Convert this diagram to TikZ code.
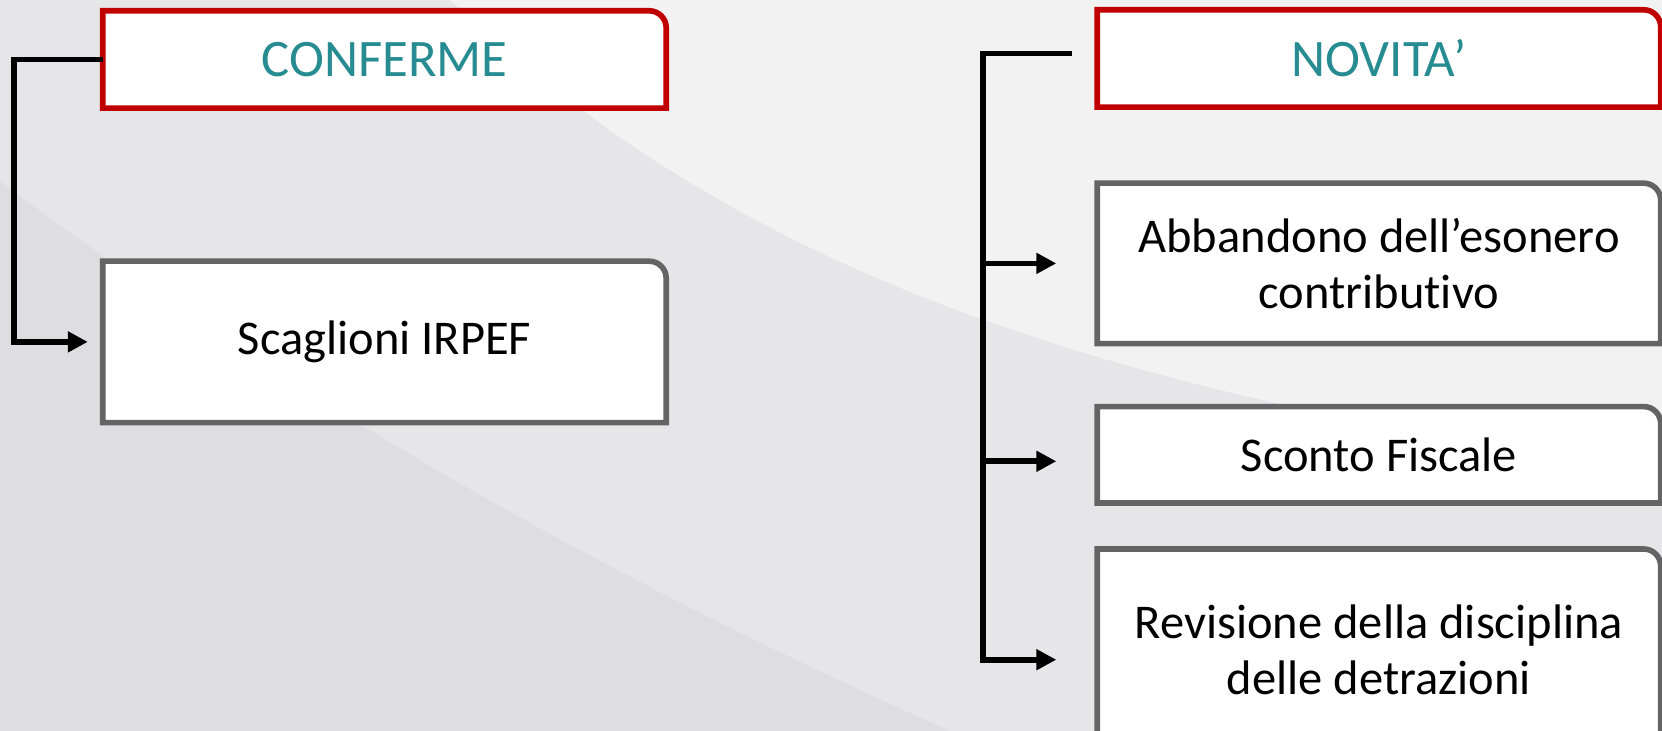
\documentclass[tikz,border=0pt]{standalone}
\usepackage{fontspec}
\setmainfont{Carlito}[Ligatures=NoCommon]
\usetikzlibrary{positioning}
\usetikzlibrary{arrows.meta}
\usetikzlibrary{backgrounds}

\definecolor{titlered}{RGB}{192,0,0}
\definecolor{titleteal}{RGB}{38,140,145}
\definecolor{boxgray}{RGB}{100,100,100}
\definecolor{bggray}{RGB}{230,230,232}

% outline with one round corner (top right)
\newcommand{\tabbox}[2]{%
  \filldraw[fill=white, draw=#2, line width=1.6pt] (#1.south west) -- (#1.north west)
    -- ([xshift=-1.7mm]#1.north east) arc[start angle=90, end angle=0, radius=1.7mm]
    -- (#1.south east) -- cycle;}

\begin{document}
\begin{tikzpicture}[titlenode/.style={minimum width=5.62cm, minimum height=0.96cm, inner sep=0pt, align=center, text=titleteal, font=\fontsize{15}{18}\selectfont},
    itemnode/.style={minimum width=5.62cm, inner sep=0pt, align=center, font=\fontsize{13.8}{16}\selectfont},
    link/.style={-{Triangle[length=2mm, width=2mm]}, line width=1.6pt}]
        \useasboundingbox (0,0) rectangle (16.62,7.31);

        \node[titlenode] (conferme) at (3.845,6.715) {CONFERME};
        \node[itemnode, minimum height=1.60cm] (scaglioni) [below=1.53cm of conferme] {Scaglioni IRPEF};

        \node[titlenode] (novita) at (13.79,6.725) {NOVITA’};
        \node[itemnode, minimum height=1.59cm] (abbandono) [below=0.76cm of novita] {Abbandono dell’esonero\\contributivo};
        \node[itemnode, minimum height=0.95cm] (sconto) [below=0.63cm of abbandono] {Sconto Fiscale};
        \node[itemnode, minimum height=2.0cm] (revisione) [below=0.46cm of sconto] {Revisione della disciplina\\delle detrazioni};

        \begin{scope}[on background layer]
            \fill[bggray] (0,0) rectangle (16.62,7.31);
            \fill[white, opacity=0.5] (4.5,7.31) .. controls (7,5) and (10,3.5) .. (16.62,2.6) -- (16.62,7.31) -- cycle;
            \fill[black, opacity=0.03] (0,5.5) .. controls (2,4) and (5,2) .. (9.5,0) -- (0,0) -- cycle;
            \tabbox{conferme}{titlered}
            \tabbox{scaglioni}{boxgray}
            \tabbox{novita}{titlered}
            \tabbox{abbandono}{boxgray}
            \tabbox{sconto}{boxgray}
            \tabbox{revisione}{boxgray}
        \end{scope}

        \draw[link] (conferme.west) -- ++(-0.89,0) |- ([xshift=-0.15cm]scaglioni.west);

        \coordinate (rtop) at ([xshift=-0.25cm, yshift=0.05cm]novita.west);
        \coordinate (rspine) at ([xshift=-1.14cm, yshift=0.05cm]novita.west);
        \draw[link] (rtop) -- (rspine) |- ([xshift=-0.41cm, yshift=-0.1cm]revisione.west);
        \draw[link] (rspine |- abbandono.west) -- ([xshift=-0.41cm]abbandono.west);
        \draw[link] (rspine |- sconto.west) ++(0,-0.065) -- ([xshift=-0.41cm, yshift=-0.065cm]sconto.west);

    \end{tikzpicture}
\end{document}
